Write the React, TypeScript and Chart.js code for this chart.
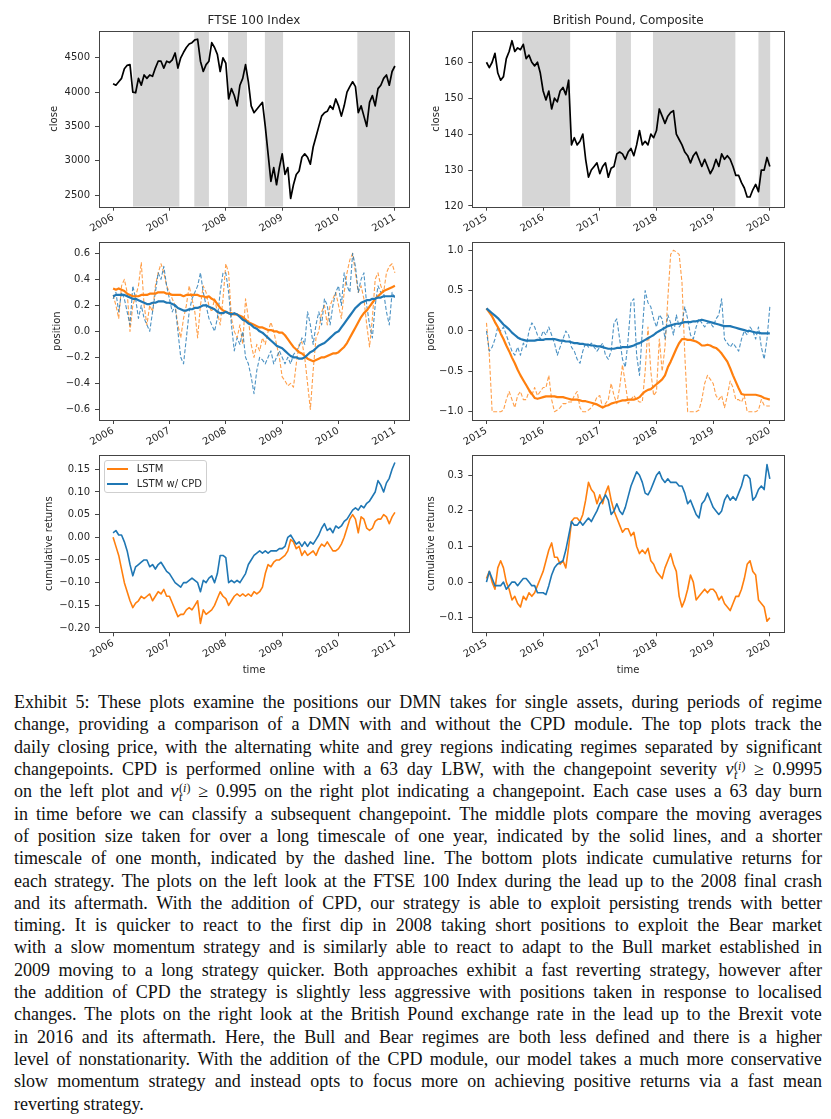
import React, { useEffect, useRef } from 'react';
import { Chart, registerables } from 'chart.js';
Chart.register(...registerables);

const FONT = "'DejaVu Sans', sans-serif";
const TXT = '#262626';
const ORANGE = '#ff7f0e';
const BLUE = '#1f77b4';
const ORANGE_D = 'rgba(255,127,14,0.75)';
const BLUE_D = 'rgba(31,119,180,0.8)';
const SPAN = '#d6d6d6';
const STEP = 0.05;

// ---------- time axes ----------
const ftseStart = 2006;
const gbpStart = 2015;
const ftseYearTicks = [2006, 2007, 2008, 2009, 2010, 2011];
const gbpYearTicks = [2015, 2016, 2017, 2018, 2019, 2020];

// ---------- regimes (grey bands) ----------
const ftseRegimes = [[2006.353, 2007.176], [2007.441, 2007.70], [2008.04, 2008.376], [2008.693, 2009.016], [2010.333, 2011.0]];
const gbpRegimes = [[2015.629, 2016.477], [2017.284, 2017.549], [2017.938, 2019.392], [2019.799, 2020.006]];

// ---------- FTSE 100 close ----------
const ftseClose = [
  4120, 4100, 4150, 4200, 4340, 4390, 4400, 4000, 3990, 4200,
  4100, 4250, 4200, 4250, 4230, 4350, 4450, 4450, 4350, 4450,
  4430, 4470, 4570, 4350, 4500, 4580, 4650, 4700, 4720, 4760,
  4770, 4450, 4300, 4400, 4450, 4720, 4650, 4550, 4300, 4500,
  4420, 3900, 4050, 3950, 3800, 4100, 4200, 4400, 4150, 3800,
  3700, 3750, 3800, 3850, 3500, 3100, 2700, 2900, 2650, 2900,
  3100, 2800, 2900, 2450, 2650, 2800, 2850, 3050, 3100, 3050,
  2950, 3200, 3350, 3500, 3650, 3700, 3720, 3800, 3750, 3900,
  3800, 3650, 3800, 4000, 4080, 4150, 4080, 3700, 3800, 3650,
  3500, 3850, 3950, 3800, 4050, 4100, 4200, 4250, 4100, 4300,
  4380,
];

// ---------- British Pound close ----------
const gbpClose = [
  160, 158.5, 160, 162.5, 157, 155, 156, 161, 163, 166,
  163, 164, 163.5, 165, 161, 162, 160, 159, 160, 157,
  152, 149.5, 152, 147, 150, 149, 152, 153, 151, 155,
  137, 139, 137, 138, 140, 133, 128, 130, 131, 132,
  129, 131, 132, 128, 130.5, 131, 134.5, 135, 134.5, 133,
  135, 136, 134, 137, 141, 137, 138, 137, 140, 139,
  141, 147, 145, 143, 145, 146, 146.5, 140, 138.5, 137,
  135, 134, 132, 134, 135, 133, 131, 133, 131, 129,
  130.5, 133, 131, 134.5, 133, 134, 133, 131, 128.5, 128.5,
  126.5, 125, 122.5, 122.5, 124.5, 126, 124, 130, 130, 133.5,
  131,
];

// ---------- FTSE positions ----------
const ftseLstmLong = [
  0.33, 0.32, 0.33, 0.32, 0.31, 0.29, 0.28, 0.27, 0.27, 0.27,
  0.28, 0.28, 0.28, 0.29, 0.29, 0.29, 0.30, 0.30, 0.30, 0.29,
  0.29, 0.28, 0.28, 0.28, 0.28, 0.27, 0.28, 0.28, 0.28, 0.28,
  0.28, 0.27, 0.27, 0.26, 0.27, 0.25, 0.24, 0.21, 0.18, 0.16,
  0.15, 0.14, 0.14, 0.13, 0.13, 0.12, 0.11, 0.09, 0.07, 0.06,
  0.05, 0.04, 0.03, 0.03, 0.02, 0.01, 0.01, 0.0, 0.0, -0.01,
  -0.01, -0.03, -0.06, -0.09, -0.12, -0.14, -0.16, -0.17, -0.19, -0.21,
  -0.22, -0.23, -0.22, -0.21, -0.20, -0.20, -0.19, -0.18, -0.17, -0.17,
  -0.16, -0.14, -0.12, -0.09, -0.05, -0.01, 0.03, 0.07, 0.11, 0.14,
  0.16, 0.19, 0.22, 0.25, 0.27, 0.29, 0.31, 0.32, 0.33, 0.34,
  0.35,
];
const ftseCpdLong = [
  0.27, 0.28, 0.28, 0.28, 0.28, 0.27, 0.26, 0.25, 0.25, 0.24,
  0.23, 0.22, 0.21, 0.21, 0.22, 0.22, 0.23, 0.23, 0.23, 0.22,
  0.22, 0.21, 0.20, 0.18, 0.17, 0.16, 0.16, 0.17, 0.17, 0.18,
  0.18, 0.19, 0.20, 0.20, 0.19, 0.18, 0.17, 0.15, 0.14, 0.14,
  0.15, 0.14, 0.13, 0.14, 0.13, 0.11, 0.09, 0.08, 0.06, 0.05,
  0.03, 0.02, 0.0, -0.01, -0.03, -0.05, -0.07, -0.09, -0.11, -0.12,
  -0.13, -0.15, -0.17, -0.19, -0.20, -0.20, -0.21, -0.21, -0.20, -0.18,
  -0.16, -0.15, -0.13, -0.11, -0.10, -0.09, -0.07, -0.05, -0.03, -0.01,
  0.0, 0.03, 0.06, 0.09, 0.12, 0.15, 0.18, 0.20, 0.22, 0.23,
  0.24, 0.24, 0.25, 0.25, 0.26, 0.26, 0.27, 0.27, 0.27, 0.27,
  0.27,
];
const ftseLstmShort = [
  0.28, 0.20, 0.10, 0.35, 0.40, 0.30, 0.00, 0.20, 0.27, 0.35,
  0.53, 0.20, 0.05, 0.20, 0.15, 0.35, 0.45, 0.52, 0.45, 0.35,
  0.30, 0.25, 0.20, 0.05, -0.05, 0.10, 0.20, 0.35, 0.25, 0.15,
  -0.05, 0.20, 0.35, 0.30, 0.20, 0.15, 0.25, 0.15, 0.05, 0.25,
  0.52, 0.45, 0.10, 0.00, -0.05, 0.05, -0.10, 0.25, 0.10, -0.10,
  -0.20, -0.10, -0.15, -0.05, -0.10, 0.00, 0.07, 0.00, -0.10, -0.20,
  -0.35, -0.38, -0.42, -0.40, -0.43, -0.25, -0.10, -0.08, -0.20, -0.40,
  -0.60, -0.30, -0.05, 0.00, 0.15, 0.20, 0.05, 0.20, 0.25, 0.30,
  0.20, 0.10, 0.30, 0.45, 0.55, 0.60, 0.45, 0.30, 0.35, 0.25,
  0.05, -0.12, 0.10, 0.40, 0.45, 0.35, 0.30, 0.45, 0.50, 0.52,
  0.45,
];
const ftseCpdShort = [
  0.25, 0.30, 0.15, 0.30, 0.25, 0.15, 0.05, 0.35, 0.25, 0.10,
  0.20, 0.10, 0.05, 0.00, 0.15, 0.30, 0.45, 0.40, 0.50, 0.35,
  0.25, 0.15, 0.20, 0.00, -0.20, -0.25, -0.05, 0.15, 0.25, 0.30,
  0.35, 0.45, 0.30, 0.20, 0.10, 0.05, 0.00, 0.10, 0.30, 0.45,
  0.45, 0.30, 0.05, -0.15, -0.05, -0.10, 0.00, -0.20, -0.25, -0.35,
  -0.48, -0.30, -0.20, -0.22, -0.25, -0.20, -0.15, -0.25, -0.20, -0.15,
  -0.20, -0.25, -0.20, -0.25, -0.18, -0.15, -0.12, -0.05, -0.10, 0.15,
  0.05, -0.10, 0.05, 0.15, 0.05, 0.25, 0.20, 0.05, 0.20, 0.30,
  0.35, 0.20, 0.45, 0.35, 0.30, 0.60, 0.50, 0.30, 0.40, 0.45,
  0.20, 0.05, -0.05, 0.20, 0.35, 0.30, 0.30, 0.15, 0.05, 0.30,
  0.25,
];

// ---------- GBP positions ----------
const gbpLstmLong = [
  0.28, 0.23, 0.18, 0.11, 0.05, -0.03, -0.10, -0.18, -0.25, -0.33,
  -0.40, -0.48, -0.55, -0.61, -0.67, -0.73, -0.78, -0.83, -0.84, -0.83,
  -0.82, -0.81, -0.81, -0.81, -0.81, -0.82, -0.82, -0.82, -0.83, -0.84,
  -0.85, -0.85, -0.85, -0.86, -0.87, -0.87, -0.88, -0.89, -0.90, -0.91,
  -0.93, -0.95, -0.93, -0.92, -0.90, -0.89, -0.88, -0.87, -0.86, -0.86,
  -0.85, -0.85, -0.85, -0.84, -0.82, -0.78, -0.75, -0.73, -0.72, -0.69,
  -0.66, -0.63, -0.60, -0.55, -0.45, -0.38, -0.30, -0.22, -0.15, -0.10,
  -0.10, -0.11, -0.11, -0.12, -0.13, -0.15, -0.18, -0.18, -0.17, -0.18,
  -0.20, -0.21, -0.24, -0.28, -0.33, -0.38, -0.46, -0.55, -0.63, -0.71,
  -0.78, -0.79, -0.79, -0.79, -0.79, -0.79, -0.80, -0.81, -0.83, -0.84,
  -0.85,
];
const gbpCpdLong = [
  0.28, 0.25, 0.22, 0.19, 0.16, 0.12, 0.08, 0.05, 0.02, -0.02,
  -0.05, -0.08, -0.10, -0.11, -0.12, -0.12, -0.12, -0.12, -0.11, -0.11,
  -0.11, -0.10, -0.10, -0.10, -0.10, -0.11, -0.12, -0.12, -0.13, -0.13,
  -0.14, -0.15, -0.15, -0.16, -0.16, -0.17, -0.17, -0.18, -0.18, -0.19,
  -0.19, -0.20, -0.21, -0.22, -0.22, -0.22, -0.21, -0.21, -0.20, -0.20,
  -0.20, -0.19, -0.18, -0.16, -0.15, -0.13, -0.11, -0.09, -0.07, -0.05,
  -0.02, 0.00, 0.02, 0.04, 0.06, 0.07, 0.08, 0.09, 0.09, 0.10,
  0.11, 0.11, 0.11, 0.12, 0.12, 0.13, 0.14, 0.13, 0.12, 0.11,
  0.10, 0.09, 0.08, 0.07, 0.06, 0.06, 0.06, 0.05, 0.04, 0.03,
  0.02, 0.01, 0.00, 0.00, -0.01, -0.02, -0.02, -0.03, -0.03, -0.03,
  -0.03,
];
const gbpLstmShort = [
  0.10, -0.30, -1.00, -1.00, -1.00, -1.00, -0.98, -0.85, -0.75, -0.85,
  -0.95, -0.80, -0.75, -0.85, -0.85, -0.75, -0.80, -0.70, -0.80, -0.75,
  -0.70, -0.70, -0.55, -0.85, -1.00, -0.98, -0.95, -0.90, -0.90, -0.88,
  -0.88, -0.80, -0.75, -0.95, -1.00, -1.00, -0.98, -0.95, -0.90, -0.82,
  -0.80, -0.95, -0.90, -0.85, -0.65, -0.80, -0.90, -0.70, -0.42, -0.65,
  -0.90, -0.85, -0.80, -0.85, -0.88, -0.88, -0.50, 0.05, -0.50, -0.80,
  -0.75, -0.10, -0.50, -0.20, 0.40, 0.95, 1.00, 0.98, 0.95, 0.60,
  -0.30, -1.00, -1.00, -1.00, -1.00, -0.98, -0.85, -0.65, -0.55, -0.60,
  -0.65, -0.80, -0.85, -0.80, -0.95, -0.80, -0.62, -0.70, -0.85, -0.85,
  -0.88, -0.80, -1.00, -1.00, -1.00, -1.00, -0.98, -0.85, -0.92, -0.93,
  -0.93,
];
const gbpCpdShort = [
  0.00, -0.25, -0.20, -0.10, 0.05, 0.00, 0.05, -0.05, -0.15, -0.25,
  -0.30, -0.20, -0.30, -0.15, -0.20, 0.00, 0.10, 0.05, -0.05, -0.10,
  0.00, -0.05, 0.05, -0.05, -0.15, -0.30, -0.20, -0.10, 0.00, -0.05,
  -0.20, -0.25, -0.35, -0.40, -0.25, -0.15, -0.20, -0.15, -0.20, -0.25,
  -0.20, -0.15, -0.30, -0.35, -0.25, 0.10, 0.15, -0.10, -0.35, -0.45,
  -0.10, 0.35, 0.40, -0.30, -0.55, 0.00, 0.50, 0.35, 0.30, 0.15,
  0.05, 0.20, 0.15, -0.10, 0.20, 0.10, -0.05, 0.20, 0.05, 0.10,
  0.30, 0.15, -0.05, -0.10, 0.05, 0.15, 0.10, 0.05, 0.10, 0.10,
  0.05, 0.15, 0.20, 0.40, -0.10, -0.15, -0.20, -0.15, -0.20, -0.25,
  -0.10, 0.00, -0.05, 0.05, 0.00, -0.10, 0.05, -0.20, -0.35, -0.10,
  0.30,
];

// ---------- cumulative returns ----------
const ftseLstmCum = [
  0.0, -0.02, -0.04, -0.07, -0.10, -0.12, -0.14, -0.155, -0.145, -0.14,
  -0.13, -0.135, -0.13, -0.125, -0.14, -0.13, -0.12, -0.125, -0.115, -0.13,
  -0.13, -0.145, -0.16, -0.175, -0.17, -0.17, -0.16, -0.155, -0.16, -0.15,
  -0.14, -0.19, -0.16, -0.17, -0.165, -0.16, -0.15, -0.135, -0.12, -0.13,
  -0.135, -0.15, -0.14, -0.13, -0.125, -0.13, -0.125, -0.13, -0.125, -0.13,
  -0.12, -0.125, -0.12, -0.11, -0.08, -0.06, -0.065, -0.055, -0.05, -0.05,
  -0.045, -0.04, -0.03, -0.005, -0.01, -0.025, -0.02, -0.04, -0.03, -0.04,
  -0.035, -0.03, -0.04, -0.025, -0.015, -0.02, -0.01, -0.02, -0.03, -0.03,
  -0.025, -0.015, 0.0, 0.02, 0.04, 0.05, 0.04, 0.01, 0.045, 0.04,
  0.02, 0.015, 0.02, 0.035, 0.04, 0.04, 0.05, 0.045, 0.03, 0.045,
  0.055,
];
const ftseCpdCum = [
  0.01, 0.015, 0.005, 0.005, -0.01, -0.03, -0.06, -0.085, -0.065, -0.06,
  -0.055, -0.05, -0.05, -0.065, -0.06, -0.07, -0.06, -0.055, -0.065, -0.075,
  -0.08, -0.09, -0.10, -0.105, -0.11, -0.10, -0.10, -0.095, -0.09, -0.095,
  -0.10, -0.12, -0.095, -0.10, -0.09, -0.085, -0.10, -0.08, -0.04, -0.04,
  -0.045, -0.10, -0.095, -0.10, -0.095, -0.10, -0.09, -0.08, -0.06, -0.05,
  -0.04, -0.035, -0.03, -0.035, -0.03, -0.035, -0.03, -0.03, -0.03, -0.025,
  -0.025, -0.02, 0.0, 0.005, -0.005, -0.015, -0.01, -0.02, -0.01, -0.02,
  -0.01, -0.015, -0.005, 0.005, 0.02, 0.03, 0.015, 0.02, 0.01, 0.025,
  0.02, 0.025, 0.035, 0.04, 0.05, 0.06, 0.065, 0.06, 0.07, 0.065,
  0.075, 0.08, 0.09, 0.10, 0.125, 0.115, 0.10, 0.12, 0.13, 0.15,
  0.165,
];
const gbpLstmCum = [
  0.01, 0.03, 0.00, -0.02, 0.04, 0.06, 0.04, 0.00, -0.02, -0.05,
  -0.04, -0.06, -0.07, -0.04, -0.05, -0.03, -0.04, -0.03, -0.01, 0.01,
  0.03, 0.06, 0.09, 0.11, 0.07, 0.07, 0.05, 0.06, 0.04, 0.10,
  0.17, 0.18, 0.18, 0.17, 0.19, 0.23, 0.28, 0.26, 0.25, 0.22,
  0.245, 0.22, 0.25, 0.27, 0.23, 0.20, 0.18, 0.16, 0.14, 0.15,
  0.15, 0.13, 0.14, 0.10, 0.08, 0.09, 0.08, 0.095, 0.06, 0.05,
  0.03, 0.02, 0.01, 0.04, 0.06, 0.08, 0.05, 0.03, -0.04, -0.07,
  -0.05, -0.02, 0.02, 0.00, -0.05, -0.04, -0.03, -0.02, -0.03, -0.02,
  -0.02, -0.03, -0.05, -0.04, -0.06, -0.07, -0.08, -0.06, -0.04, -0.04,
  -0.02, 0.01, 0.05, 0.06, 0.03, 0.02, -0.05, -0.06, -0.07, -0.11,
  -0.10,
];
const gbpCpdCum = [
  0.00, 0.03, 0.01, -0.01, -0.01, -0.01, 0.00, -0.02, -0.01, 0.00,
  0.00, -0.01, 0.00, 0.01, 0.01, 0.00, -0.01, -0.01, -0.03, -0.03,
  -0.03, -0.035, -0.01, 0.02, 0.04, 0.05, 0.055, 0.06, 0.09, 0.13,
  0.17, 0.16, 0.16, 0.17, 0.16, 0.17, 0.18, 0.17, 0.185, 0.20,
  0.22, 0.23, 0.245, 0.23, 0.19, 0.20, 0.22, 0.20, 0.19, 0.21,
  0.24, 0.27, 0.29, 0.31, 0.30, 0.28, 0.25, 0.245, 0.26, 0.28,
  0.30, 0.31, 0.29, 0.28, 0.29, 0.28, 0.28, 0.28, 0.27, 0.27,
  0.25, 0.22, 0.23, 0.21, 0.19, 0.18, 0.22, 0.23, 0.25, 0.23,
  0.21, 0.20, 0.19, 0.20, 0.23, 0.245, 0.23, 0.24, 0.23, 0.25,
  0.27, 0.30, 0.30, 0.29, 0.23, 0.24, 0.26, 0.27, 0.26, 0.33,
  0.29,
];

// ---------- tick values ----------
const ftseCloseTicks = [2500, 3000, 3500, 4000, 4500];
const gbpCloseTicks = [120, 130, 140, 150, 160];
const ftsePosTicks = [-0.6, -0.4, -0.2, 0, 0.2, 0.4, 0.6];
const gbpPosTicks = [-1, -0.5, 0, 0.5, 1];
const ftseCumTicks = [-0.2, -0.15, -0.1, -0.05, 0, 0.05, 0.1, 0.15];
const gbpCumTicks = [-0.1, 0, 0.1, 0.2, 0.3];

// ---------- caption ----------
const captionLines = [
  'Exhibit 5: These plots examine the positions our DMN takes for single assets, during periods of regime',
  'change, providing a comparison of a DMN with and without the CPD module. The top plots track the',
  'daily closing price, with the alternating white and grey regions indicating regimes separated by significant',
  'changepoints. CPD is performed online with a 63 day LBW, with the changepoint severity {nu} ≥ 0.9995',
  'on the left plot and {nu} ≥ 0.995 on the right plot indicating a changepoint. Each case uses a 63 day burn',
  'in time before we can classify a subsequent changepoint. The middle plots compare the moving averages',
  'of position size taken for over a long timescale of one year, indicated by the solid lines, and a shorter',
  'timescale of one month, indicated by the dashed line. The bottom plots indicate cumulative returns for',
  'each strategy. The plots on the left look at the FTSE 100 Index during the lead up to the 2008 final crash',
  'and its aftermath. With the addition of CPD, our strategy is able to exploit persisting trends with better',
  'timing. It is quicker to react to the first dip in 2008 taking short positions to exploit the Bear market',
  'with a slow momentum strategy and is similarly able to react to adapt to the Bull market established in',
  '2009 moving to a long strategy quicker. Both approaches exhibit a fast reverting strategy, however after',
  'the addition of CPD the strategy is slightly less aggressive with positions taken in response to localised',
  'changes. The plots on the right look at the British Pound exchange rate in the lead up to the Brexit vote',
  'in 2016 and its aftermath. Here, the Bull and Bear regimes are both less defined and there is a higher',
  'level of nonstationarity. With the addition of the CPD module, our model takes a much more conservative',
  'slow momentum strategy and instead opts to focus more on achieving positive returns via a fast mean',
  'reverting strategy.',
];

interface Series { values: number[]; color: string; width: number; dash?: number[] }
interface PanelSpec {
  left: number; top: number; width: number; height: number;
  yAxisWidth: number; xAxisHeight: number; padTop: number; padRight: number;
  title?: string; yTitle: string; yTitlePad: number; xTitle?: string;
  xStart: number; xMin: number; xMax: number; xTicks: number[];
  yMin: number; yMax: number; yTicks: number[]; yDecimals: number;
  series: Series[]; spans?: number[][];
}

function timeAxis(start: number, n: number) {
  return Array.from({ length: n }, (_, i) => Math.round((start + i * STEP) * 1000) / 1000);
}

function fmt(v: number, d: number) {
  const s = Number(v).toFixed(d);
  return s.replace('-', '\u2212');
}

function Panel({ spec }: { spec: PanelSpec }) {
  const ref = useRef<HTMLCanvasElement | null>(null);
  useEffect(() => {
    if (!ref.current) return;
    const spans = spec.spans || [];
    const deco = {
      id: 'deco',
      beforeDatasetsDraw(chart: any) {
        const { ctx, chartArea: a, scales } = chart;
        const x = scales.x;
        ctx.save();
        ctx.beginPath();
        ctx.rect(a.left, a.top, a.right - a.left, a.bottom - a.top);
        ctx.clip();
        ctx.fillStyle = SPAN;
        for (const [s, e] of spans) {
          const x0 = x.getPixelForValue(s);
          const x1 = x.getPixelForValue(e);
          ctx.fillRect(x0, a.top, x1 - x0, a.bottom - a.top);
        }
        ctx.restore();
      },
      afterDatasetsDraw(chart: any) {
        const { ctx, chartArea: a } = chart;
        ctx.save();
        ctx.strokeStyle = '#444';
        ctx.lineWidth = 1;
        ctx.strokeRect(Math.round(a.left) + 0.5, Math.round(a.top) + 0.5, Math.round(a.right - a.left), Math.round(a.bottom - a.top));
        ctx.restore();
      },
    };
    const xs = timeAxis(spec.xStart, spec.series[0].values.length);
    const tickFont = { family: FONT, size: 10 };
    const chart = new Chart(ref.current, {
      type: 'line',
      data: {
        datasets: spec.series.map((s) => ({
          data: s.values.map((v, i) => ({ x: xs[i], y: v })),
          borderColor: s.color,
          borderWidth: s.width,
          borderDash: s.dash || [],
          pointRadius: 0,
          fill: false,
          tension: 0,
          borderJoinStyle: 'round' as const,
        })),
      },
      options: {
        animation: false,
        responsive: false,
        maintainAspectRatio: false,
        events: [],
        layout: { padding: { left: 0, top: spec.padTop, right: spec.padRight, bottom: 0 } },
        plugins: {
          legend: { display: false },
          tooltip: { enabled: false },
          title: spec.title
            ? { display: true, text: spec.title, fullSize: false, color: TXT, font: { family: FONT, size: 12, weight: 'normal' as const }, padding: { top: 13.5, bottom: 3.1 } }
            : { display: false },
        },
        scales: {
          x: {
            type: 'linear',
            min: spec.xMin,
            max: spec.xMax,
            afterBuildTicks: (sc: any) => { sc.ticks = spec.xTicks.map((v) => ({ value: v })); },
            afterFit: (sc: any) => { sc.height = spec.xAxisHeight; sc.paddingLeft = 0; sc.paddingRight = 0; },
            ticks: { autoSkip: false, maxRotation: 30, minRotation: 30, color: TXT, font: tickFont, padding: 1, callback: (v: any) => String(v) },
            grid: { display: true, drawOnChartArea: false, drawTicks: true, tickLength: 4, color: '#444' },
            border: { display: false },
            title: spec.xTitle
              ? { display: true, text: spec.xTitle, color: TXT, font: tickFont, padding: { top: 0, bottom: 9 } }
              : { display: false },
          },
          y: {
            type: 'linear',
            min: spec.yMin,
            max: spec.yMax,
            afterBuildTicks: (sc: any) => { sc.ticks = spec.yTicks.map((v) => ({ value: v })); },
            afterFit: (sc: any) => { sc.width = spec.yAxisWidth; sc.paddingTop = 0; sc.paddingBottom = 0; },
            ticks: { autoSkip: false, color: TXT, font: tickFont, padding: 5, callback: (v: any) => fmt(v, spec.yDecimals) },
            grid: { display: true, drawOnChartArea: false, drawTicks: true, tickLength: 4, color: '#444' },
            border: { display: false },
            title: { display: true, text: spec.yTitle, color: TXT, font: tickFont, padding: { top: spec.yTitlePad, bottom: 0 } },
          },
        },
      } as any,
      plugins: [deco],
    });
    return () => chart.destroy();
  }, [spec]);
  return (
    <canvas
      ref={ref}
      width={spec.width}
      height={spec.height}
      style={{ position: 'absolute', left: spec.left, top: spec.top, width: spec.width, height: spec.height }}
    />
  );
}

// layout constants
const L = { left: 0, width: 425, yAxisWidth: 99, padRight: 16 };
const R = { left: 425, width: 406, yAxisWidth: 47.3, padRight: 47 };
const ROW1 = { top: 0, height: 238, xAxisHeight: 31.3, padTop: 0 };
const ROW2 = { top: 238, height: 214, xAxisHeight: 32, padTop: 4.3 };
const ROW3 = { top: 452, height: 233, xAxisHeight: 52.7, padTop: 3 };

const LX = { xStart: ftseStart, xMin: 2005.75, xMax: 2011.25, xTicks: ftseYearTicks };
const RX = { xStart: gbpStart, xMin: 2014.75, xMax: 2020.25, xTicks: gbpYearTicks };

const panels: PanelSpec[] = [
  { ...L, ...ROW1, ...LX, title: 'FTSE 100 Index', yTitle: 'close', yTitlePad: 48, yMin: 2330, yMax: 4890, yTicks: ftseCloseTicks, yDecimals: 0,
    series: [{ values: ftseClose, color: '#000', width: 1.7 }], spans: ftseRegimes },
  { ...R, ...ROW1, ...RX, title: 'British Pound, Composite', yTitle: 'close', yTitlePad: 5, yMin: 119.8, yMax: 168.7, yTicks: gbpCloseTicks, yDecimals: 0,
    series: [{ values: gbpClose, color: '#000', width: 1.7 }], spans: gbpRegimes },
  { ...L, ...ROW2, ...LX, yTitle: 'position', yTitlePad: 51.3, yMin: -0.682, yMax: 0.685, yTicks: ftsePosTicks, yDecimals: 1,
    series: [
      { values: ftseCpdLong, color: BLUE, width: 2.2 },
      { values: ftseLstmLong, color: ORANGE, width: 2.2 },
      { values: ftseCpdShort, color: BLUE_D, width: 1.1, dash: [4, 2] },
      { values: ftseLstmShort, color: ORANGE_D, width: 1.1, dash: [4, 2] },
    ] },
  { ...R, ...ROW2, ...RX, yTitle: 'position', yTitlePad: 0, yMin: -1.103, yMax: 1.099, yTicks: gbpPosTicks, yDecimals: 1,
    series: [
      { values: gbpCpdLong, color: BLUE, width: 2.2 },
      { values: gbpLstmLong, color: ORANGE, width: 2.2 },
      { values: gbpCpdShort, color: BLUE_D, width: 1.1, dash: [4, 2] },
      { values: gbpLstmShort, color: ORANGE_D, width: 1.1, dash: [4, 2] },
    ] },
  { ...L, ...ROW3, ...LX, yTitle: 'cumulative returns', yTitlePad: 43.3, xTitle: 'time', yMin: -0.2095, yMax: 0.1815, yTicks: ftseCumTicks, yDecimals: 2,
    series: [
      { values: ftseCpdCum, color: BLUE, width: 1.6 },
      { values: ftseLstmCum, color: ORANGE, width: 1.6 },
    ] },
  { ...R, ...ROW3, ...RX, yTitle: 'cumulative returns', yTitlePad: 0, xTitle: 'time', yMin: -0.141, yMax: 0.357, yTicks: gbpCumTicks, yDecimals: 1,
    series: [
      { values: gbpCpdCum, color: BLUE, width: 1.6 },
      { values: gbpLstmCum, color: ORANGE, width: 1.6 },
    ] },
];

function Nu() {
  return (
    <span style={{ whiteSpace: 'nowrap' }}>
      <i>ν</i>
      <span style={{ display: 'inline-block', position: 'relative', width: 12, height: 0 }}>
        <span style={{ position: 'absolute', left: 0.5, top: -15, fontSize: 12, lineHeight: '12px' }}>(<i>i</i>)</span>
        <span style={{ position: 'absolute', left: 0.5, top: -6, fontSize: 12, lineHeight: '12px' }}><i>t</i></span>
      </span>
    </span>
  );
}

const CAP_LH = 22.3;
const CAP_TOP = 691.1;
const CAP_LEFT = 14;
const CAP_W = 808;

function Legend() {
  const rows = [
    { label: 'LSTM', color: ORANGE, y: 469 },
    { label: 'LSTM w/ CPD', color: BLUE, y: 484 },
  ];
  return (
    <>
      <div style={{ position: 'absolute', left: 104, top: 459.7, width: 103, height: 33.6, border: '1px solid #cfcfcf', borderRadius: 3, background: 'rgba(255,255,255,0.8)', boxSizing: 'border-box' }} />
      {rows.map((r) => (
        <React.Fragment key={r.label}>
          <div style={{ position: 'absolute', left: 106.7, top: r.y - 0.8, width: 21.6, height: 1.6, background: r.color }} />
          <div style={{ position: 'absolute', left: 136.7, top: r.y - 7, height: 14, lineHeight: '14px', fontFamily: FONT, fontSize: 10, color: TXT, whiteSpace: 'nowrap' }}>{r.label}</div>
        </React.Fragment>
      ))}
    </>
  );
}

export default function App() {
  return (
    <div style={{ position: 'absolute', left: 0, top: 0, width: 831, height: 1119, background: '#fff', overflow: 'hidden' }}>
      {panels.map((p, i) => <Panel key={i} spec={p} />)}
      <Legend />
      {captionLines.map((line, i) => {
        const last = i === captionLines.length - 1;
        const words = line.split(' ');
        return (
          <div
            key={i}
            style={{
              position: 'absolute', left: CAP_LEFT, top: CAP_TOP + i * CAP_LH, width: CAP_W, height: CAP_LH,
              lineHeight: CAP_LH + 'px', fontFamily: "'Liberation Serif', 'Times New Roman', serif", fontSize: 18, color: '#111',
              display: 'flex', justifyContent: last ? 'flex-start' : 'space-between', alignItems: 'baseline', whiteSpace: 'pre',
            }}
          >
            {last ? <span>{line}</span> : words.map((w, j) => <span key={j}>{w === '{nu}' ? <Nu /> : w}</span>)}
          </div>
        );
      })}
    </div>
  );
}
